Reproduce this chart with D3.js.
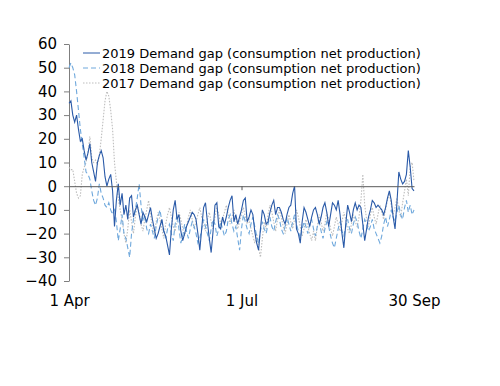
<!DOCTYPE html>
<html>
<head>
<meta charset="utf-8">
<script src="https://cdn.jsdelivr.net/npm/d3@7"></script>
<style>
  body { margin: 0; background: #fff; }
  text { font-family: "DejaVu Sans", Verdana, sans-serif; }
</style>
</head>
<body>
<div id="vis"></div>
<script>
// daily values, 1 Apr .. 30 Sep (183 days)
const gap2019 = [
  35, 36, 30, 27, 30, 24, 19, 20, 15, 11,
  14, 18, 10, 6, 2, 10, 13, 15, 12, 4,
  0, 3, 5, -2, -17, -6, 1, -8, -3, -12,
  -8, -14, -5, -4, -13, -10, -8, -12, -16, -11,
  -13, -15, -12, -9, -14, -18, -22, -20, -17, -14,
  -19, -21, -25, -29, -18, -10, -6, -14, -12, -19,
  -23, -20, -17, -15, -13, -11, -12, -14, -20, -27,
  -18, -9, -7, -15, -22, -28, -19, -8, -7, -17,
  -18, -13, -16, -13, -9, -6, -4, -15, -12, -16,
  -13, -10, -6, -5, -15, -13, -10, -12, -19, -24,
  -27, -18, -10, -12, -16, -15, -11, -8, -6, -12,
  -9, -9, -11, -14, -16, -12, -9, -8, -3, 0,
  -18, -20, -24, -15, -9, -11, -14, -17, -13, -10,
  -9, -12, -16, -13, -9, -7, -11, -17, -12, -7,
  -8, -10, -6, -12, -20, -26, -16, -8, -11, -15,
  -10, -7, -10, -8, -9, -16, -23, -18, -13, -10,
  -6, -7, -9, -8, -9, -10, -12, -9, -5, -2,
  -6, -13, -18, -7, 6, 3, 1, 2, 5, 15,
  8, -1, -2
];
const gap2018 = [
  50, 52, 50, 47, 40, 32, 24, 18, 12, 6,
  5, 3, -2, -6, -8, -5, 1, -3, -5, -8,
  -9, -7, -10, -12, -9, -15, -23, -18, -12, -20,
  -22, -26, -30, -20, -14, -10, -5, 1, -8, -15,
  -12, -18, -20, -16, -19, -22, -17, -13, -10, -15,
  -19, -22, -18, -16, -20, -23, -16, -12, -18, -24,
  -21, -16, -19, -22, -18, -15, -17, -20, -24, -22,
  -18, -14, -17, -20, -23, -18, -14, -16, -21, -18,
  -15, -18, -21, -19, -14, -12, -16, -19, -17, -22,
  -27, -18, -12, -15, -18, -20, -16, -13, -17, -21,
  -24, -19, -15, -18, -20, -16, -13, -17, -19, -15,
  -12, -14, -18, -20, -17, -13, -16, -19, -15, -12,
  -16, -19, -22, -18, -15, -17, -20, -16, -14, -18,
  -21, -17, -15, -19, -22, -18, -15, -17, -21, -24,
  -26, -22, -18, -15, -19, -21, -17, -14, -18, -20,
  -16, -13, -15, -19, -22, -18, -14, -16, -19, -17,
  -14, -18, -20, -22, -24, -21, -16, -13, -17, -14,
  -10, -13, -15, -11, -8, -12, -14, -9, -6, -11,
  -8, -12, -10
];
const gap2017 = [
  8, 7, 7, 2, -3, -5, -4, 5, 8, 10,
  14, 21, 12, 10, 11, 9, 13, 20, 28, 36,
  40, 38, 32, 24, 10, 2, -5, -10, -14, -20,
  -24, -18, -10, -15, -20, -13, -8, -11, -16, -19,
  -14, -10, -6, -12, -17, -20, -15, -11, -14, -18,
  -22, -16, -12, -9, -13, -17, -19, -15, -11, -14,
  -18, -21, -17, -13, -10, -14, -18, -15, -12, -9,
  -13, -16, -19, -14, -11, -15, -18, -13, -9, -12,
  -16, -14, -11, -8, -12, -16, -13, -10, -14, -18,
  -15, -12, -9, -13, -16, -14, -18, -21, -24, -20,
  -26, -30, -22, -15, -18, -12, -8, -11, -15, -19,
  -14, -10, -13, -17, -20, -16, -12, -15, -18, -14,
  -10, -13, -17, -21, -18, -14, -17, -20, -23, -19,
  -23, -17, -12, -15, -19, -16, -11, -14, -18, -21,
  -17, -13, -16, -19, -15, -11, -14, -18, -20, -16,
  -12, -15, -17, -13, -6, 5, -8, -14, -17, -12,
  -9, -13, -16, -12, -8, -11, -14, -10, -6, -3,
  -8, -12, -9, -5, -10, -13, -7, -2, 3, -4,
  8, 10, 2
];

const seriesNames = [
  '2019 Demand gap (consumption net production)',
  '2018 Demand gap (consumption net production)',
  '2017 Demand gap (consumption net production)'
];
const yTicks = [-40, -30, -20, -10, 0, 10, 20, 30, 40, 50, 60];
const xTickDays = [0, 91, 182];
const xTickLabels = ['1 Apr', '1 Jul', '30 Sep'];

const W = 500, H = 386;
const plot = { left: 69, right: 414, top: 44, bottom: 281 };

const series = [
  { name: seriesNames[2], values: gap2017, color: '#bdbdbd', dash: '1.5,1.5', width: 1.1 },
  { name: seriesNames[1], values: gap2018, color: '#6fa8dc', dash: '5,3', width: 1.1 },
  { name: seriesNames[0], values: gap2019, color: '#2a5aa8', dash: null, width: 1.1 }
];

const svg = d3.select('#vis')
    .append('svg')
    .attr('width', W)
    .attr('height', H);

const x = d3.scaleLinear().domain([0, 182]).range([plot.left, plot.right]);
const y = d3.scaleLinear().domain([-40, 60]).range([plot.bottom, plot.top]);

// y axis
const yAxis = svg.append('g')
    .attr('transform', `translate(${plot.left},0)`)
    .call(d3.axisLeft(y).tickValues(yTicks).tickSize(5).tickPadding(7).tickSizeOuter(0));
yAxis.selectAll('path, line').attr('stroke', '#7f7f7f');
yAxis.selectAll('text').attr('font-size', 15).attr('fill', '#000')
    .style('font-family', '"DejaVu Sans", Verdana, sans-serif');

// x tick labels along the bottom
const xLab = svg.append('g')
    .attr('transform', `translate(0,${plot.bottom})`)
    .call(d3.axisBottom(x).tickValues(xTickDays).tickSize(0).tickPadding(14)
        .tickFormat((d, i) => xTickLabels[i]));
xLab.select('.domain').remove();
xLab.selectAll('text').attr('font-size', 15).attr('fill', '#000')
    .style('font-family', '"DejaVu Sans", Verdana, sans-serif');

// lines
const line = d3.line()
    .x((d, i) => x(i))
    .y(d => y(d));

svg.selectAll('.series')
    .data(series)
    .join('path')
    .attr('class', 'series')
    .attr('d', d => line(d.values))
    .attr('fill', 'none')
    .attr('stroke', d => d.color)
    .attr('stroke-width', d => d.width)
    .attr('stroke-dasharray', d => d.dash);

// zero axis
const zeroAxis = svg.append('g')
    .attr('transform', `translate(0,${y(0)})`)
    .call(d3.axisBottom(x).tickValues([91]).tickSize(4).tickSizeOuter(0).tickFormat(''));
zeroAxis.selectAll('path, line').attr('stroke', '#595959');

// legend
const legend = svg.append('g')
    .attr('transform', 'translate(83,53)');
const legendItems = [series[2], series[1], series[0]];
const li = legend.selectAll('g')
    .data(legendItems)
    .join('g')
    .attr('transform', (d, i) => `translate(0,${i * 15})`);
li.append('line')
    .attr('x1', 0).attr('x2', 17)
    .attr('stroke', d => d.color)
    .attr('stroke-dasharray', d => d.dash);
li.append('text')
    .attr('x', 19)
    .attr('dy', '0.35em')
    .attr('font-size', 13)
    .text(d => d.name);
</script>
</body>
</html>
